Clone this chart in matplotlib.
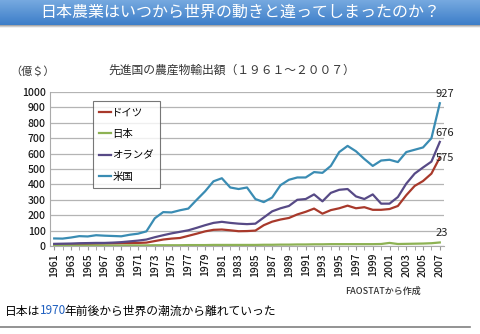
import matplotlib
matplotlib.use('Agg')
import matplotlib.pyplot as plt
from matplotlib.colors import LinearSegmentedColormap
import numpy as np

plt.rcParams['font.family'] = ['Noto Sans CJK JP', 'DejaVu Sans']

years = list(range(1961, 2008))

# 農産物輸出額（億ドル）
germany = [9, 10, 11, 13, 14, 15, 16, 17, 18, 19, 20, 22, 32, 42, 48, 52, 66, 80, 95, 105,
           107, 102, 96, 97, 100, 135, 158, 172, 182, 205, 222, 243, 210, 233, 245, 262, 245,
           252, 235, 235, 240, 260, 330, 390, 422, 470, 575]
japan = [3, 3, 3, 3, 3, 3, 3, 3, 3, 4, 4, 4, 5, 5, 5, 5, 6, 6, 6, 7,
         7, 7, 7, 7, 7, 8, 8, 9, 9, 10, 10, 11, 11, 12, 12, 12, 12,
         12, 12, 13, 20, 13, 14, 15, 16, 18, 23]
netherlands = [14, 15, 16, 18, 19, 20, 20, 22, 25, 30, 35, 42, 57, 70, 82, 92, 102, 118, 135, 150,
               157, 150, 145, 142, 145, 185, 225, 245, 260, 300, 305, 335, 290, 345, 365, 370, 322,
               305, 335, 275, 275, 318, 405, 470, 510, 548, 676]
usa = [49, 48, 55, 64, 62, 70, 67, 65, 63, 73, 80, 95, 180, 220, 218, 232, 243, 300, 355, 420,
       440, 380, 370, 380, 305, 285, 315, 395, 430, 445, 445, 480, 475, 520, 610, 650, 615,
       565, 520, 555, 560, 545, 610, 625, 640, 700, 927]

names = ['ドイツ', '日本', 'オランダ', '米国']
colors = ['#a8392b', '#8db253', '#574a86', '#3a8cb3']

fig = plt.figure(figsize=(4.8, 3.34), dpi=100)

# タイトルバー
bar = fig.add_axes([0, 1 - 25 / 334, 1, 25 / 334])
grad = np.linspace(0, 1, 50).reshape(-1, 1)
cm = LinearSegmentedColormap.from_list('bar', ['#76a9e0', '#3d7ec8'])
bar.imshow(grad, aspect='auto', cmap=cm, extent=[0, 1, 0, 1])
bar.set_xlim(0, 1)
bar.set_ylim(0, 1)
bar.axis('off')
bar.text(0.5, 0.5, '日本農業はいつから世界の動きと違ってしまったのか？', color='white',
         fontsize=11.5, ha='center', va='center')
shadow = fig.add_axes([0, 1 - 28 / 334, 1, 3 / 334])
shadow.imshow(np.linspace(0, 1, 10).reshape(-1, 1), aspect='auto',
              cmap=LinearSegmentedColormap.from_list('sh', ['#9a9a9a', '#ffffff']), extent=[0, 1, 0, 1])
shadow.axis('off')

ax = fig.add_axes([50 / 480, (334 - 246) / 334, 394 / 480, 154 / 334])
for vals, name, c in zip([germany, japan, netherlands, usa], names, colors):
    ax.plot(years, vals, color=c, lw=1.6, label=name)

ax.set_xlim(1960.5, 2007.5)
ax.set_ylim(0, 1000)
ax.set_yticks(range(0, 1001, 100))
ax.set_xticks(years, minor=True)
ax.set_xticks(years[::2])
ax.set_xticklabels([str(y) for y in years[::2]], rotation=90)
ax.tick_params(axis='x', which='both', length=3, color='#999999', labelsize=7.5, pad=2)
ax.tick_params(axis='y', length=0, labelsize=7.5, pad=3)
for lab in ax.get_xticklabels() + ax.get_yticklabels():
    lab.set_fontweight('medium')
    lab.set_color('#1a1a1a')
ax.grid(axis='y', color='#b4b4b4', lw=0.9)
ax.set_axisbelow(True)
for s in ['top', 'right']:
    ax.spines[s].set_visible(False)
ax.spines['left'].set_color('#aaaaaa')
ax.spines['bottom'].set_color('#aaaaaa')

for vals, c in [(usa, colors[3]), (netherlands, colors[2]), (germany, colors[0]), (japan, colors[1])]:
    ax.annotate(str(vals[-1]), (years[-1], vals[-1]), xytext=(-3, 3), textcoords='offset points',
                fontsize=8, color='#222222', ha='left', va='bottom' if vals is not germany else 'top')

leg = ax.legend(loc='upper left', bbox_to_anchor=(0.095, 0.975), fontsize=7.5, frameon=True,
                fancybox=False, edgecolor='#555555', handlelength=1.2, handletextpad=0.1,
                labelspacing=1.1, borderpad=0.6)
leg.get_frame().set_linewidth(0.8)

fig.text(10 / 480, 1 - 71 / 334, '（億＄）', fontsize=8, ha='left', va='center', color='#333333')
fig.text(232 / 480, 1 - 70 / 334, '先進国の農産物輸出額（１９６１～２００７）', fontsize=8.5,
         ha='center', va='center', color='#333333')
fig.text(383 / 480, 1 - 291 / 334, 'FAOSTATから作成', fontsize=6.5, ha='center', va='center',
         color='#333333', fontweight='medium')

# 下の一文（1970だけ青）
ty = 1 - 311 / 334
t = fig.text(5 / 480, ty, '日本は', fontsize=8.5, ha='left', va='center')
t2 = fig.text(0, 0, '1970', fontsize=8.5, color='#2060c0', ha='left', va='center')
t3 = fig.text(0, 0, '年前後から世界の潮流から離れていった', fontsize=8.5, ha='left', va='center')
fig.canvas.draw()
r = fig.canvas.get_renderer()
x = t.get_window_extent(r).x1 / fig.bbox.width
t2.set_position((x, ty))
fig.canvas.draw()
x = t2.get_window_extent(r).x1 / fig.bbox.width - 2.5 / 480
t3.set_position((x, ty))

fig.add_artist(plt.Line2D([0, 470 / 480], [1 - 327 / 334] * 2, color='#808080', lw=1.2))

fig.savefig('out.png', dpi=100)
